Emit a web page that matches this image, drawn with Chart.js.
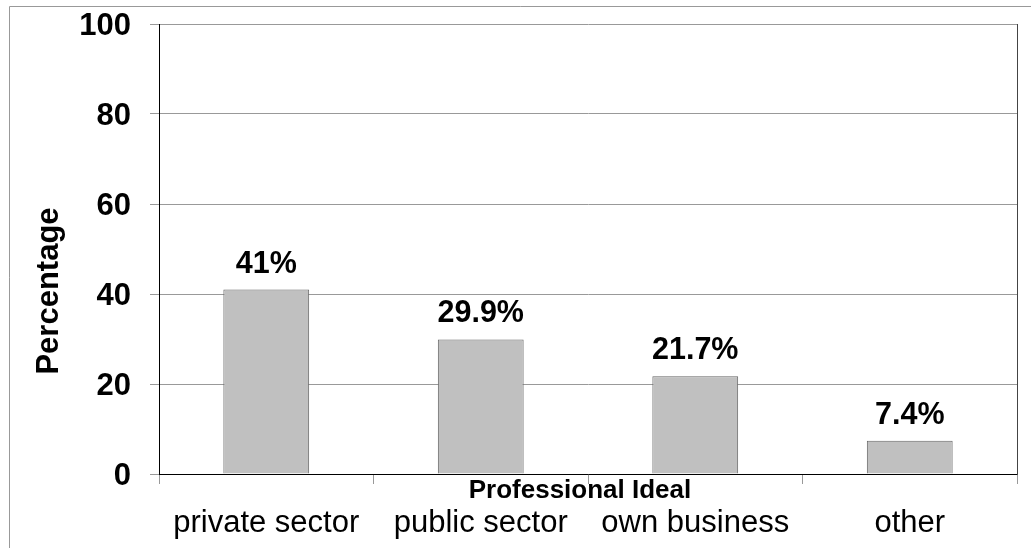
<!DOCTYPE html>
<html>
<head>
<meta charset="utf-8">
<script src="https://cdn.jsdelivr.net/npm/chart.js@4"></script>
<style>
  body { margin: 0; background: #fff; }
  canvas { display: block; }
</style>
</head>
<body>
<canvas id="myChart" width="1031" height="548"></canvas>
<script>
const categories = ["private sector", "public sector", "own business", "other"];
const values = [41, 29.9, 21.7, 7.4];
const yTicks = [0, 20, 40, 60, 80, 100];

// frame lines, bar value labels and the two axis titles
const extras = {
  id: "extras",
  beforeDraw(chart) {
    const ctx = chart.ctx;
    ctx.save();
    ctx.strokeStyle = "#999";
    ctx.lineWidth = 1;
    ctx.beginPath();
    ctx.moveTo(9.5, 548);
    ctx.lineTo(9.5, 6.5);
    ctx.lineTo(1031, 6.5);
    ctx.stroke();
    ctx.restore();
  },
  afterDatasetsDraw(chart) {
    const ctx = chart.ctx;
    const meta = chart.getDatasetMeta(0);
    ctx.save();
    ctx.fillStyle = "#000";
    ctx.font = "bold 30.5px 'Liberation Sans', Arial";
    ctx.textAlign = "center";
    ctx.textBaseline = "alphabetic";
    meta.data.forEach((bar, i) => {
      ctx.fillText(values[i] + "%", bar.x, bar.y - 17);
    });

    // x title sits between the tick marks and the category names
    ctx.font = "bold 26px 'Liberation Sans', Arial";
    ctx.fillText("Professional Ideal", 580, 498);

    ctx.translate(58, 291);
    ctx.rotate(-Math.PI / 2);
    ctx.font = "bold 31px 'Liberation Sans', Arial";
    ctx.fillText("Percentage", 0, 0);
    ctx.restore();
  },
};

const fixWidth = (w) => (scale) => {
  scale.width = w;
  scale.paddingTop = 0;
  scale.paddingBottom = 0;
};

const ctx = document.getElementById("myChart").getContext("2d");
const myChart = new Chart(ctx, {
  type: "bar",
  data: {
    labels: categories,
    datasets: [
      {
        data: values,
        backgroundColor: "#c0c0c0",
        borderColor: "#666",
        borderWidth: 1,
        categoryPercentage: 1,
        barPercentage: 0.4,
      },
    ],
  },
  options: {
    responsive: false,
    animation: false,
    devicePixelRatio: 1,
    layout: { padding: { top: 24, left: 0, right: 0, bottom: 0 } },
    plugins: {
      legend: { display: false },
      tooltip: { enabled: false },
    },
    scales: {
      x: {
        afterFit: (scale) => { scale.height = 74; },
        grid: { drawOnChartArea: false, tickLength: 10, color: "#999" },
        border: { color: "#000", width: 1 },
        ticks: {
          padding: 21,
          color: "#000",
          font: { size: 31, family: "'Liberation Sans', Arial" },
        },
      },
      y: {
        min: 0,
        max: 100,
        afterFit: fixWidth(159),
        afterBuildTicks: (scale) => {
          scale.ticks = yTicks.map((v) => ({ value: v }));
        },
        grid: { color: "#999", tickLength: 9 },
        border: { color: "#000", width: 1 },
        ticks: {
          padding: 19,
          labelOffset: 2,
          color: "#000",
          font: { size: 31, weight: "bold", family: "'Liberation Sans', Arial" },
        },
      },
      right: {
        position: "right",
        afterFit: fixWidth(14),
        grid: { drawOnChartArea: false, drawTicks: false },
        border: { color: "#444", width: 1 },
        ticks: { display: false },
      },
    },
  },
  plugins: [extras],
});
</script>
</body>
</html>
